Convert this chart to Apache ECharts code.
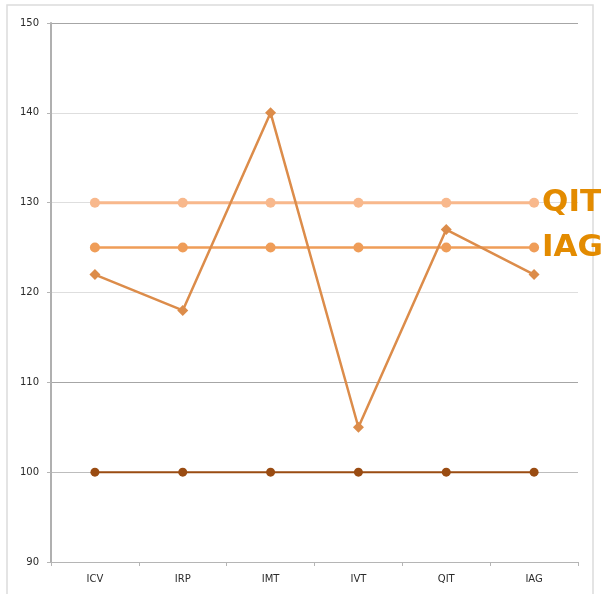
<!DOCTYPE html>
<html><head><meta charset="utf-8">
<script src="https://cdn.jsdelivr.net/npm/echarts@6/dist/echarts.min.js"></script>
<style>html,body{margin:0;padding:0;background:#fff}#c{width:610px;height:594px}</style>
</head><body><div id="c"></div>
<script>
const categories = ['ICV','IRP','IMT','IVT','QIT','IAG'];
const scoreValues = [122,118,140,105,127,122];
const qitValues = [130,130,130,130,130,130];
const iagValues = [125,125,125,125,125,125];
const baseValues = [100,100,100,100,100,100];

const chart = echarts.init(document.getElementById('c'));
chart.setOption({
  animation:false,
  graphic:[{type:'rect',shape:{x:7,y:5,width:586,height:600},style:{fill:'none',stroke:'#dcdcdc',lineWidth:1.5},silent:true}],
  grid:{left:51,right:32,top:23,bottom:32},
  xAxis:{type:'category',data:categories,boundaryGap:true,
    axisLine:{lineStyle:{color:'#b5b5b5',width:1.2}},
    axisTick:{show:true,length:4,lineStyle:{color:'#b5b5b5'}},
    axisLabel:{color:'#2b2b2b',fontSize:10,fontFamily:'DejaVu Sans',margin:12}},
  yAxis:{type:'value',min:90,max:150,interval:10,
    axisLine:{show:true,lineStyle:{color:'#b0b0b0',width:2}},
    axisTick:{show:true,length:4,lineStyle:{color:'#b5b5b5'}},
    axisLabel:{color:'#2b2b2b',fontSize:10,fontFamily:'DejaVu Sans',margin:12},
    splitLine:{lineStyle:{color:['#b5b5b5','#bdbdbd','#a6a6a6','#dedede','#dedede','#dedede','#a6a6a6'],width:[1.2]}}},
  series:[
    {name:'QIT',type:'line',data:qitValues,symbol:'circle',symbolSize:10,
      lineStyle:{color:'#f8b88c',width:3},itemStyle:{color:'#f8b88c'},
      endLabel:{show:true,formatter:'{a}',color:'#e38b00',fontSize:31,fontWeight:'bold',fontFamily:'DejaVu Sans',distance:8}},
    {name:'IAG',type:'line',data:iagValues,symbol:'circle',symbolSize:10,
      lineStyle:{color:'#ef9d58',width:2.5},itemStyle:{color:'#ef9d58'},
      endLabel:{show:true,formatter:'{a}',color:'#e38b00',fontSize:31,fontWeight:'bold',fontFamily:'DejaVu Sans',distance:8}},
    {name:'Base',type:'line',data:baseValues,symbol:'circle',symbolSize:9,
      lineStyle:{color:'#9a4c12',width:2},itemStyle:{color:'#9a4c12'}},
    {name:'Score',type:'line',data:scoreValues,symbol:'diamond',symbolSize:11,
      lineStyle:{color:'#dc8c4a',width:2.5},itemStyle:{color:'#dc8c4a'}}
  ]
});
</script></body></html>
